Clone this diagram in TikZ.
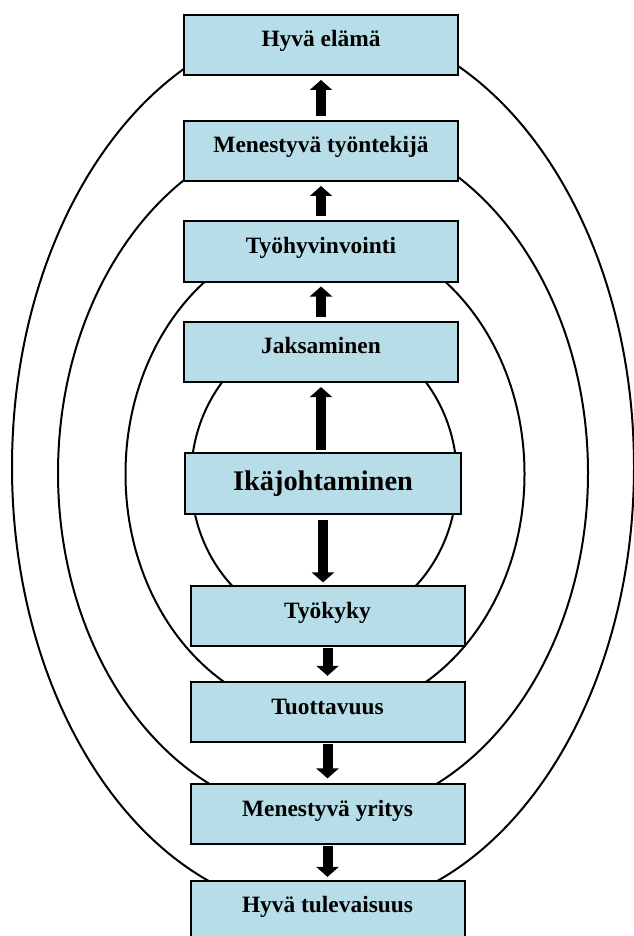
\documentclass[tikz,border=0pt]{standalone}
\usepackage{fontspec}
\setmainfont{Liberation Serif}
\usetikzlibrary{arrows.meta}

\definecolor{boxblue}{RGB}{183,221,232}

\tikzset{
  orbit/.style={draw=black, line width=1pt},
  stage/.style={draw=black, line width=1pt, fill=boxblue, inner sep=0pt,
    minimum width=137pt, minimum height=30pt, text height=8pt, text depth=6pt,
    font=\fontsize{11.7}{14}\selectfont\bfseries},
  blockarrow/.style={line width=5pt, -{Triangle[width=11pt,length=5pt]}},
}

\begin{document}
\begin{tikzpicture}[x=0.5pt, y=-0.5pt]
\useasboundingbox (0,0) rectangle (633,936);

% nested ellipses
\draw[orbit] (323,467) ellipse [x radius=155.5pt, y radius=222.5pt];
\draw[orbit] (323,473) ellipse [x radius=132.5pt, y radius=172pt];
\draw[orbit] (325,474) ellipse [x radius=99.75pt, y radius=120.5pt];
\draw[orbit] (324,478) ellipse [x radius=66.5pt, y radius=74.5pt];

% upper chain
\node[stage] (hyva) at (321,45) {Hyvä elämä};
\node[stage] (tyontekija) at (321,151) {Menestyvä työntekijä};
\node[stage] (hyvinvointi) at (321,251.5) {Työhyvinvointi};
\node[stage] (jaksaminen) at (321,351.5) {Jaksaminen};

% centre
\node[stage, minimum width=138pt, minimum height=30.5pt, text height=10pt, text depth=3.5pt,
  font=\fontsize{14.2}{17}\selectfont\bfseries] (ika) at (323,483.5) {Ikäjohtaminen};

% lower chain
\node[stage] (tyokyky) at (327.5,616) {Työkyky};
\node[stage] (tuottavuus) at (327.5,712) {Tuottavuus};
\node[stage] (yritys) at (327.5,814) {Menestyvä yritys};
\node[stage] (tulevaisuus) at (327.5,910.5) {Hyvä tulevaisuus};

% arrows up
\draw[blockarrow, shorten <=2pt, shorten >=2pt] (tyontekija.north) -- (hyva.south);
\draw[blockarrow, shorten <=2pt, shorten >=2pt] (hyvinvointi.north) -- (tyontekija.south);
\draw[blockarrow, shorten <=2pt, shorten >=2pt] (jaksaminen.north) -- (hyvinvointi.south);
\draw[blockarrow, shorten <=1pt, shorten >=2.3pt] (jaksaminen.south |- ika.north) -- (jaksaminen.south);

% arrows down
\draw[blockarrow, shorten <=2.6pt, shorten >=1.3pt] (ika.south) -- (ika.south |- tyokyky.north);
\draw[blockarrow, shorten <=0.5pt, shorten >=2.6pt] (tyokyky.south) -- (tuottavuus.north);
\draw[blockarrow, shorten <=0.6pt, shorten >=2.3pt] (tuottavuus.south) -- (yritys.north);
\draw[blockarrow, shorten <=0.5pt, shorten >=1.3pt] (yritys.south) -- (tulevaisuus.north);

\end{tikzpicture}
\end{document}
